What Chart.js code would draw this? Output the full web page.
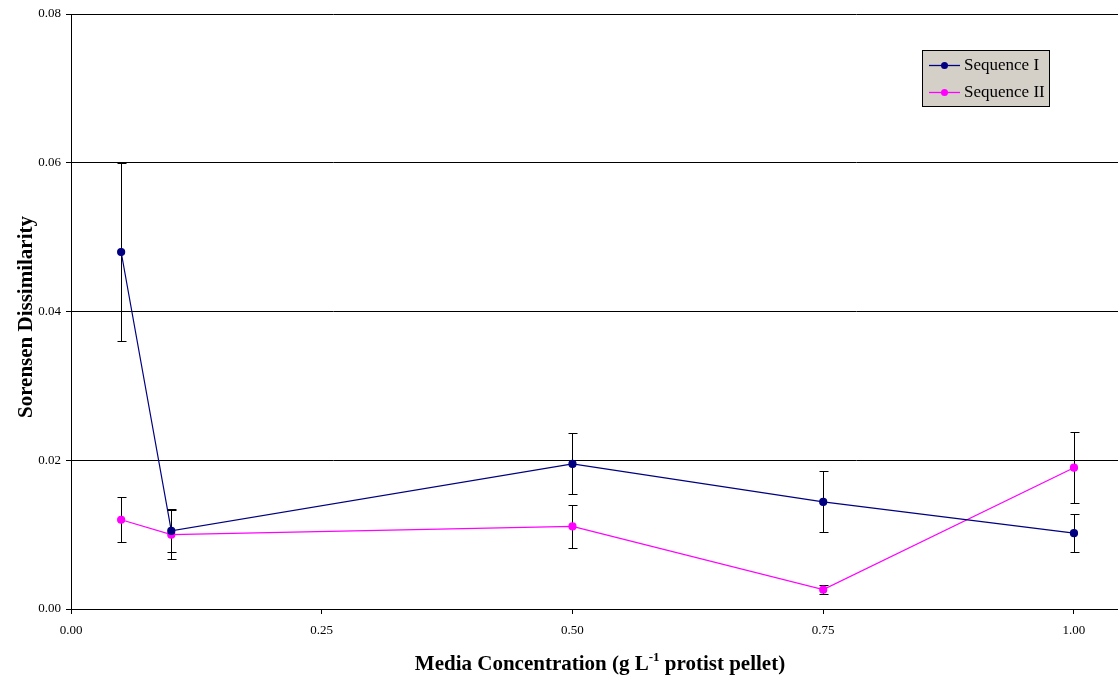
<!DOCTYPE html>
<html>
<head>
<meta charset="utf-8">
<script src="https://cdn.jsdelivr.net/npm/chart.js@4/dist/chart.umd.min.js"></script>
<style>
html,body{margin:0;padding:0;background:#fff;}
#wrap{position:relative;width:1118px;height:679px;}
canvas{display:block;}
</style>
</head>
<body>
<div id="wrap"><canvas id="c" width="1118" height="679"></canvas></div>
<script>
const concentrations = [0.05, 0.10, 0.50, 0.75, 1.00];
const seqIValues = [0.048, 0.0105, 0.0195, 0.0144, 0.0102];
const seqIErrors = [0.012, 0.0029, 0.0041, 0.0041, 0.0026];
const seqIIValues = [0.012, 0.0100, 0.0111, 0.0026, 0.0190];
const seqIIErrors = [0.0030, 0.0033, 0.0029, 0.0006, 0.0048];
const seriesNames = ['Sequence I', 'Sequence II'];
const xTickLabels = ['0.00', '0.25', '0.50', '0.75', '1.00'];
const yTickLabels = ['0.00', '0.02', '0.04', '0.06', '0.08'];

const SERIF = '"Liberation Serif", "Times New Roman", serif';

function toPoints(xs, ys, errs) {
  return xs.map((x, i) => ({x: x, y: ys[i], err: errs[i]}));
}

const errorBars = {
  id: 'errorBars',
  beforeDatasetsDraw(chart) {
    const ctx = chart.ctx;
    const xs = chart.scales.x, ys = chart.scales.y;
    ctx.save();
    ctx.strokeStyle = '#000';
    ctx.lineWidth = 1;
    chart.data.datasets.forEach(ds => {
      ds.data.forEach(p => {
        const px = Math.round(xs.getPixelForValue(p.x)) + 0.5;
        const top = Math.round(ys.getPixelForValue(p.y + p.err)) + 0.5;
        const bot = Math.round(ys.getPixelForValue(p.y - p.err)) + 0.5;
        ctx.beginPath();
        ctx.moveTo(px, top); ctx.lineTo(px, bot);
        ctx.moveTo(px - 4, top); ctx.lineTo(px + 5, top);
        ctx.moveTo(px - 4, bot); ctx.lineTo(px + 5, bot);
        ctx.stroke();
      });
    });
    ctx.restore();
  }
};

const decorations = {
  id: 'decorations',
  afterDraw(chart) {
    const ctx = chart.ctx;
    ctx.save();
    ctx.fillStyle = '#000';
    ctx.font = 'bold 21px ' + SERIF;
    ctx.textAlign = 'center';
    ctx.textBaseline = 'alphabetic';
    ctx.translate(32, 317);
    ctx.rotate(-Math.PI / 2);
    ctx.fillText('Sorensen Dissimilarity', 0, 0);
    ctx.restore();

    ctx.save();
    ctx.fillStyle = '#000';
    ctx.textBaseline = 'alphabetic';
    ctx.textAlign = 'left';
    const big = 'bold 21px ' + SERIF, small = 'bold 13px ' + SERIF;
    const parts = [['Media Concentration (g L', big, 0], ['-1', small, -9], [' protist pellet)', big, 0]];
    let total = 0;
    parts.forEach(p => { ctx.font = p[1]; total += ctx.measureText(p[0]).width; });
    let x = 600 - total / 2;
    const base = 670;
    parts.forEach(p => { ctx.font = p[1]; ctx.fillText(p[0], x, base + p[2]); x += ctx.measureText(p[0]).width; });
    ctx.restore();

    ctx.save();
    const lx = 922, ly = 50, lw = 127, lh = 56;
    ctx.fillStyle = '#D4D0C8';
    ctx.fillRect(lx, ly, lw, lh);
    ctx.strokeStyle = '#000';
    ctx.lineWidth = 1;
    ctx.strokeRect(lx + 0.5, ly + 0.5, lw, lh);
    ctx.font = '17px ' + SERIF;
    ctx.textBaseline = 'middle';
    ctx.textAlign = 'left';
    chart.data.datasets.forEach((ds, i) => {
      const y = ly + 15 + i * 27;
      ctx.strokeStyle = ds.borderColor;
      ctx.lineWidth = 1.3;
      ctx.beginPath();
      ctx.moveTo(lx + 7, y + 0.5); ctx.lineTo(lx + 38, y + 0.5);
      ctx.stroke();
      ctx.fillStyle = ds.pointBackgroundColor;
      ctx.beginPath();
      ctx.arc(lx + 22.5, y + 0.5, 3.5, 0, Math.PI * 2);
      ctx.fill();
      ctx.fillStyle = '#000';
      ctx.fillText(ds.label, lx + 42, y + 1);
    });
    ctx.restore();
  }
};

new Chart(document.getElementById('c'), {
  type: 'line',
  data: {
    datasets: [
      {
        label: seriesNames[0],
        data: toPoints(concentrations, seqIValues, seqIErrors),
        borderColor: '#000080',
        backgroundColor: '#000080',
        pointBackgroundColor: '#000080',
        pointBorderColor: '#000080',
        pointRadius: 3.5,
        borderWidth: 1.2,
        tension: 0
      },
      {
        label: seriesNames[1],
        data: toPoints(concentrations, seqIIValues, seqIIErrors),
        borderColor: '#FF00FF',
        backgroundColor: '#FF00FF',
        pointBackgroundColor: '#FF00FF',
        pointBorderColor: '#FF00FF',
        pointRadius: 3.5,
        borderWidth: 1.2,
        tension: 0
      }
    ]
  },
  options: {
    responsive: false,
    animation: false,
    devicePixelRatio: 1,
    layout: {autoPadding: false, padding: {top: 14, right: 0, left: 0, bottom: 0}},
    plugins: {legend: {display: false}, tooltip: {enabled: false}, title: {display: false}},
    scales: {
      x: {
        type: 'linear',
        min: 0, max: 1.0439,
        afterBuildTicks(scale) { scale.ticks = xTickLabels.map(v => ({value: parseFloat(v)})); },
        afterFit(scale) { scale.height = 70; scale.paddingRight = 0; scale.paddingLeft = 0; },
        grid: {drawOnChartArea: false, drawTicks: true, tickLength: 5, color: '#000'},
        border: {color: '#000', width: 1},
        ticks: {
          color: '#000', font: {family: SERIF, size: 13}, padding: 9, maxRotation: 0,
          callback: (v) => xTickLabels.find(t => parseFloat(t) === v)
        }
      },
      y: {
        min: 0, max: 0.08,
        afterBuildTicks(scale) { scale.ticks = yTickLabels.map(v => ({value: parseFloat(v)})); },
        afterFit(scale) { scale.width = 71; scale.paddingTop = 0; scale.paddingBottom = 0; },
        grid: {color: '#000', drawTicks: true, tickLength: 5, lineWidth: 1},
        border: {color: '#000', width: 1},
        ticks: {
          color: '#000', font: {family: SERIF, size: 13}, padding: 5,
          callback: (v) => yTickLabels.find(t => parseFloat(t) === v)
        }
      }
    }
  },
  plugins: [errorBars, decorations]
});
</script>
</body>
</html>
